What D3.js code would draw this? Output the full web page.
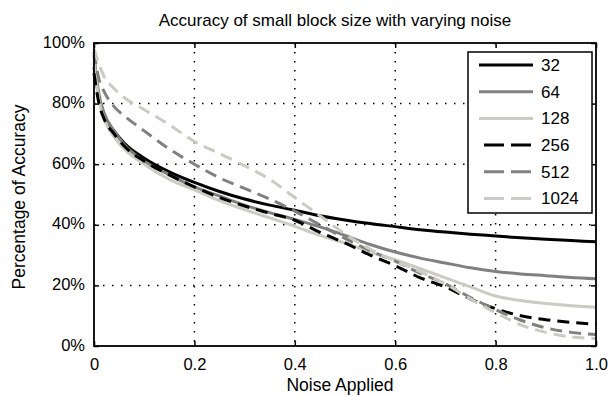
<!DOCTYPE html>
<html>
<head>
<meta charset="utf-8">
<script src="https://cdn.jsdelivr.net/npm/d3@7"></script>
<style>
  body { margin: 0; background: #fff; }
  svg { display: block; font-family: "Liberation Sans", Arial, sans-serif; }
</style>
</head>
<body>
<div id="chart"></div>
<script>
// noise levels (x) shared by all series
const noise = [0, 0.01, 0.02, 0.04, 0.06, 0.1, 0.15, 0.2, 0.25, 0.3, 0.35, 0.4, 0.45, 0.5, 0.55, 0.6, 0.65, 0.7, 0.75, 0.8, 0.85, 0.9, 0.95, 1.0];

// accuracy (%) per block size
const acc32   = [92, 82, 76, 71, 67, 62, 57.5, 54, 51, 48.5, 46.5, 44.8, 43, 41.6, 40.4, 39.4, 38.4, 37.6, 36.9, 36.3, 35.7, 35.2, 34.8, 34.4];
const acc64   = [96, 83, 77, 71, 66.5, 61, 56.5, 52.5, 49.5, 46.5, 44, 41.8, 39.3, 36.5, 33.5, 31, 29, 27.4, 25.8, 24.6, 23.8, 23.2, 22.6, 22.2];
const acc128  = [94, 81, 75, 69, 65, 60, 55, 51.5, 48, 45, 42.3, 39.5, 36.5, 34, 31, 28.5, 25.5, 22.5, 19.5, 16.5, 15, 14, 13.3, 12.8];
const acc256  = [90, 80, 75, 70, 66, 61, 56.5, 52.5, 49, 46.2, 43.8, 41.5, 37.5, 34, 30, 26.5, 22.5, 19.5, 15.5, 12.3, 10, 8.7, 7.8, 7.2];
const acc512  = [97, 88, 84, 79, 76, 71, 65, 60, 55.5, 52, 48.5, 44.5, 40, 35.5, 31.5, 28, 24, 20.5, 16, 12, 8.5, 6, 4.5, 3.8];
const acc1024 = [98, 93, 89, 85, 82, 78, 73, 67.5, 63.5, 59.5, 55, 49, 43, 37, 32, 28, 24.5, 20.5, 15.5, 11, 7, 4.5, 3, 2.5];

const labels = ['32', '64', '128', '256', '512', '1024'];
const xTicks = [0, 0.2, 0.4, 0.6, 0.8, 1.0];
const yTicks = [0, 20, 40, 60, 80, 100];

const series = [
  { name: labels[0], values: acc32,   color: '#000000', dash: null },
  { name: labels[1], values: acc64,   color: '#808080', dash: null },
  { name: labels[2], values: acc128,  color: '#cbcbc3', dash: null },
  { name: labels[3], values: acc256,  color: '#000000', dash: '12,7' },
  { name: labels[4], values: acc512,  color: '#808080', dash: '12,7' },
  { name: labels[5], values: acc1024, color: '#cbcbc3', dash: '12,7' }
];

const W = 610, H = 396;
const margin = { top: 43, right: 14, bottom: 50, left: 94 };
const width = W - margin.left - margin.right;
const height = H - margin.top - margin.bottom;

const svg = d3.select('#chart').append('svg')
  .attr('width', W)
  .attr('height', H);

const g = svg.append('g')
  .attr('transform', `translate(${margin.left},${margin.top})`);

const x = d3.scaleLinear().domain([0, 1]).range([0, width]);
const y = d3.scaleLinear().domain([0, 100]).range([height, 0]);

// dotted grid
g.append('g')
  .selectAll('line')
  .data(xTicks.slice(1, -1))
  .join('line')
    .attr('x1', d => x(d)).attr('x2', d => x(d))
    .attr('y1', 0).attr('y2', height)
    .attr('stroke', '#000')
    .attr('stroke-width', 1.5)
    .attr('stroke-dasharray', '1.5,7.5');
g.append('g')
  .selectAll('line')
  .data(yTicks.slice(1, -1))
  .join('line')
    .attr('x1', 0).attr('x2', width)
    .attr('y1', d => y(d)).attr('y2', d => y(d))
    .attr('stroke', '#000')
    .attr('stroke-width', 1.5)
    .attr('stroke-dasharray', '1.5,7.5');

// lines
const line = d3.line()
  .x((d, i) => x(noise[i]))
  .y(d => y(d))
  .curve(d3.curveMonotoneX);

series.forEach(s => {
  g.append('path')
    .datum(s.values)
    .attr('fill', 'none')
    .attr('stroke', s.color)
    .attr('stroke-width', 3)
    .attr('stroke-dasharray', s.dash)
    .attr('d', line);
});

// axes: ticks pointing inward, on all four sides
const fontSize = '16.5px';
const styleAxis = (sel) => {
  sel.select('.domain').remove();
  sel.selectAll('.tick line').attr('stroke', '#000').attr('stroke-width', 1.5);
  sel.selectAll('.tick text').attr('fill', '#000').style('font-size', fontSize);
};

g.append('g')
  .attr('transform', `translate(0,${height})`)
  .call(d3.axisBottom(x).tickValues(xTicks).tickSize(-5).tickPadding(12)
    .tickFormat(d => d === 1 ? '1.0' : d3.format('')(d)))
  .call(styleAxis);
g.append('g')
  .call(d3.axisTop(x).tickValues(xTicks).tickSize(-5).tickFormat(''))
  .call(styleAxis);
g.append('g')
  .call(d3.axisLeft(y).tickValues(yTicks).tickSize(-5).tickPadding(9)
    .tickFormat(d => d + '%'))
  .call(styleAxis)
  .call(a => a.selectAll('.tick text').attr('dy', '0.25em'));
g.append('g')
  .attr('transform', `translate(${width},0)`)
  .call(d3.axisRight(y).tickValues(yTicks).tickSize(-5).tickFormat(''))
  .call(styleAxis);

// box
g.append('rect')
  .attr('width', width).attr('height', height)
  .attr('fill', 'none')
  .attr('stroke', '#000')
  .attr('stroke-width', 1.8);

// legend
const lg = g.append('g').attr('transform', `translate(${374},${9})`);
lg.append('rect')
  .attr('width', 124).attr('height', 161)
  .attr('fill', '#fff')
  .attr('stroke', '#000')
  .attr('stroke-width', 1.5);
series.forEach((s, i) => {
  const yy = 13 + i * 26.7;
  lg.append('line')
    .attr('x1', 11).attr('x2', 65)
    .attr('y1', yy).attr('y2', yy)
    .attr('stroke', s.color)
    .attr('stroke-width', 3)
    .attr('stroke-dasharray', s.dash ? '20,7' : null)
    .attr('stroke-dashoffset', s.dash ? -5 : 0);
  lg.append('text')
    .attr('x', 73).attr('y', yy)
    .attr('dy', '0.35em')
    .style('font-size', '17px')
    .text(s.name);
});

// titles
svg.append('text')
  .attr('x', 335).attr('y', 26)
  .attr('text-anchor', 'middle')
  .style('font-size', '17px')
  .text('Accuracy of small block size with varying noise');
svg.append('text')
  .attr('x', 340).attr('y', 391)
  .attr('text-anchor', 'middle')
  .style('font-size', '17.5px')
  .text('Noise Applied');
svg.append('text')
  .attr('transform', `translate(25,197) rotate(-90)`)
  .attr('text-anchor', 'middle')
  .style('font-size', '17.5px')
  .text('Percentage of Accuracy');
</script>
</body>
</html>
